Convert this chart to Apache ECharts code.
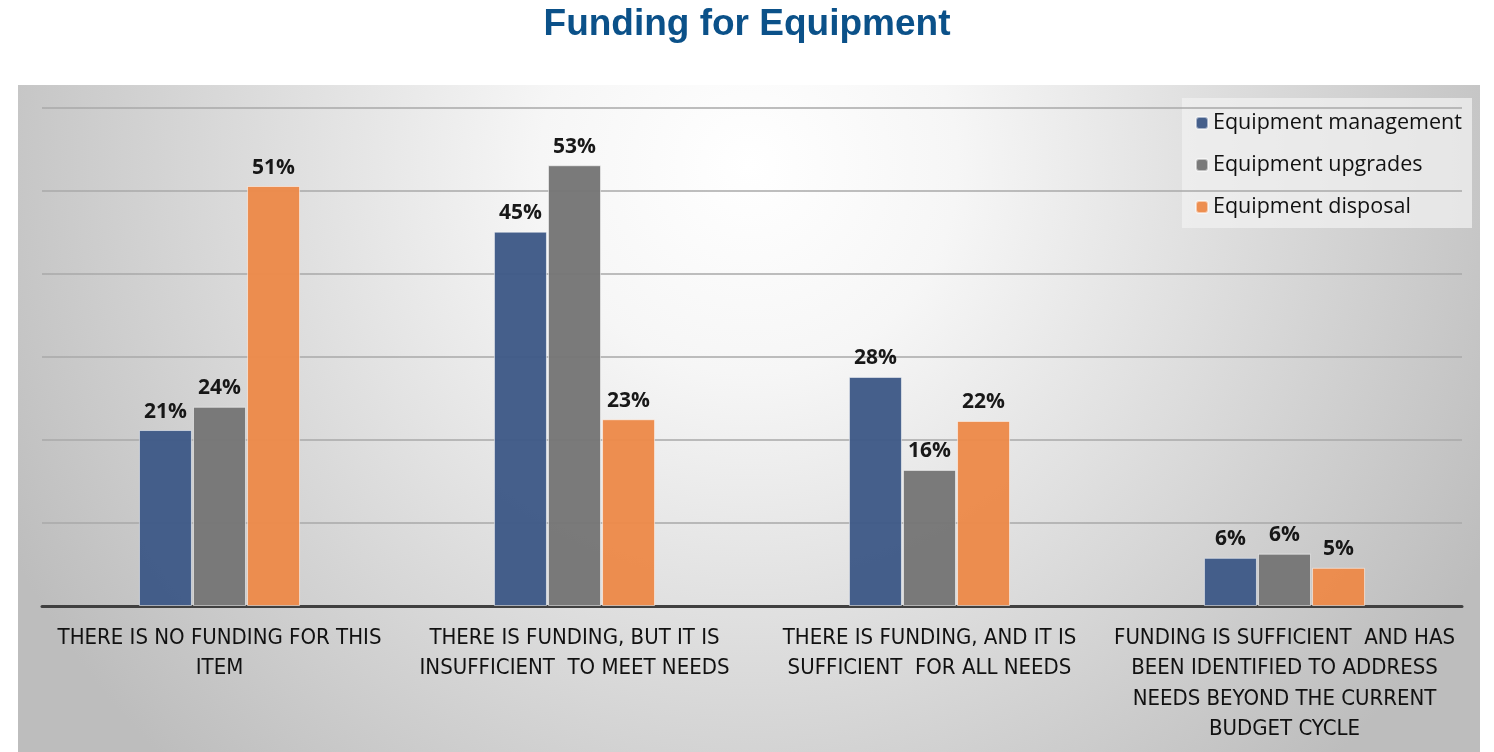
<!DOCTYPE html>
<html><head><meta charset="utf-8">
<script src="https://cdn.jsdelivr.net/npm/echarts@6/dist/echarts.min.js"></script>
<style>html,body{margin:0;padding:0;background:#fff}#c{width:1494px;height:752px}</style>
</head><body><div id="c"></div>
<script>
const title = 'Funding for Equipment';
const categories = [
  'THERE IS NO FUNDING FOR THIS\nITEM',
  'THERE IS FUNDING, BUT IT IS\nINSUFFICIENT  TO MEET NEEDS',
  'THERE IS FUNDING, AND IT IS\nSUFFICIENT  FOR ALL NEEDS',
  'FUNDING IS SUFFICIENT  AND HAS\nBEEN IDENTIFIED TO ADDRESS\nNEEDS BEYOND THE CURRENT\nBUDGET CYCLE'
];
const seriesNames = ['Equipment management', 'Equipment upgrades', 'Equipment disposal'];
const management = [21.2, 45.1, 27.6, 5.8];
const upgrades = [24.0, 53.1, 16.4, 6.3];
const disposal = [50.6, 22.5, 22.3, 4.6];
const yTicks = [0, 10, 20, 30, 40, 50, 60];

const colors = ['#3f5a87', '#767676', '#ec8a4a'];
const chart = echarts.init(document.getElementById('c'));
const mk = (name, data, i) => ({
  name, type: 'bar', data, barWidth: 53, barGap: '2%',
  itemStyle: { color: colors[i], borderColor: 'rgba(255,255,255,0.55)', borderWidth: 1, opacity: 0.97 },
  label: { show: true, position: 'top', distance: 8, formatter: p => Math.round(p.value) + '%',
    fontFamily: 'Open Sans', fontWeight: 'bold', fontSize: 21, color: '#111' }
});
chart.setOption({
  animation: false,
  title: { text: title, left: 'center', top: 1,
    textStyle: { fontFamily: 'Liberation Sans', fontWeight: 'bold', fontSize: 37, color: '#0b5189' } },
  graphic: [{
    type: 'rect', z: -10, silent: true,
    shape: { x: 18, y: 85, width: 1462, height: 667 },
    style: { fill: { type: 'radial', x: 0.5, y: 0.12, r: 1.25,
      colorStops: [{ offset: 0, color: '#ffffff' }, { offset: 0.25, color: '#f6f6f6' }, { offset: 1, color: '#bdbdbd' }] } }
  }, {
    type: 'rect', z: -5, silent: true,
    shape: { x: 1182, y: 98, width: 290, height: 130 },
    style: { fill: 'rgba(240,240,240,0.75)' }
  }],
  legend: {
    orient: 'vertical', left: 1190, top: 107, itemWidth: 12, itemHeight: 12, itemGap: 20,
    data: seriesNames,
    textStyle: { fontFamily: 'Open Sans', fontSize: 21.5, color: '#111' }
  },
  grid: { left: 42, right: 32, top: 108, bottom: 146 },
  xAxis: {
    type: 'category', data: categories,
    axisTick: { show: false },
    axisLine: { lineStyle: { color: '#404040', width: 3 } },
    axisLabel: { interval: 0, margin: 17, lineHeight: 30.5, fontFamily: "'DejaVu Sans Condensed', 'Liberation Sans'", fontSize: 22, color: '#111' }
  },
  yAxis: {
    type: 'value', min: yTicks[0], max: yTicks[yTicks.length - 1], interval: 10,
    axisLabel: { show: false }, axisLine: { show: false }, axisTick: { show: false },
    splitLine: { lineStyle: { color: '#a8a8a8', width: 1.5 } }
  },
  series: [mk(seriesNames[0], management, 0), mk(seriesNames[1], upgrades, 1), mk(seriesNames[2], disposal, 2)]
});
</script></body></html>
